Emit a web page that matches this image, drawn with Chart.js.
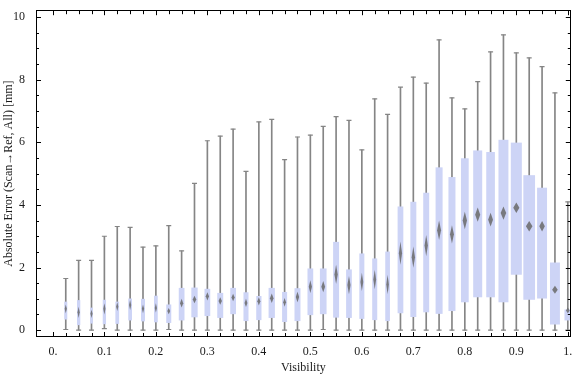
<!DOCTYPE html>
<html>
<head>
<meta charset="utf-8">
<script src="https://cdn.jsdelivr.net/npm/chart.js@4/dist/chart.umd.min.js"></script>
<style>
  html, body { margin: 0; padding: 0; background: #fff; }
  #wrap { width: 576px; height: 377px; }
</style>
</head>
<body>
<div id="wrap"><canvas id="box-chart"></canvas></div>
<script>
// values
const visibility = [0.025, 0.05, 0.075, 0.1, 0.125, 0.15, 0.175, 0.2, 0.225, 0.25,
                    0.275, 0.3, 0.325, 0.35, 0.375, 0.4, 0.425, 0.45, 0.475, 0.5,
                    0.525, 0.55, 0.575, 0.6, 0.625, 0.65, 0.675, 0.7, 0.725, 0.75,
                    0.775, 0.8, 0.825, 0.85, 0.875, 0.9, 0.925, 0.95, 0.975, 1.0];
const whiskerLow = [0.02, 0, 0, 0.05, 0, 0, 0, 0, 0.02, 0,
                    0, 0, 0, 0, 0, 0, 0, 0, 0, 0,
                    0.02, 0, 0, 0, 0, 0, 0, 0, 0, 0,
                    0, 0, 0, 0, 0, 0, 0, 0, 0, 0];
const whiskerHigh = [1.65, 2.23, 2.23, 3.0, 3.31, 3.28, 2.65, 2.69, 3.34, 2.53,
                     4.69, 6.05, 6.20, 6.42, 5.07, 6.65, 6.73, 5.45, 6.17, 6.23,
                     6.51, 6.82, 6.70, 5.76, 7.39, 6.89, 7.76, 8.08, 7.89, 9.27,
                     7.42, 7.07, 7.94, 8.89, 9.43, 8.86, 8.70, 8.42, 7.58, 4.10];
const q1 = [0.34, 0.16, 0.21, 0.19, 0.20, 0.31, 0.28, 0.25, 0.23, 0.31,
            0.41, 0.45, 0.39, 0.51, 0.29, 0.32, 0.39, 0.26, 0.29, 0.48,
            0.51, 0.40, 0.39, 0.36, 0.32, 0.29, 0.54, 0.42, 0.57, 0.52,
            0.61, 0.89, 1.05, 1.05, 0.89, 1.77, 0.97, 1.01, 0.18, 0.31];
const q3 = [0.91, 0.96, 0.72, 0.97, 0.91, 1.01, 1.00, 1.10, 0.82, 1.35,
            1.36, 1.32, 1.19, 1.35, 1.21, 1.09, 1.35, 1.22, 1.34, 1.97,
            1.97, 2.82, 1.94, 2.45, 2.29, 2.51, 3.95, 4.10, 4.39, 5.20,
            4.89, 5.49, 5.74, 5.69, 6.08, 5.99, 4.95, 4.55, 2.16, 0.66];
const median = [0.68, 0.57, 0.52, 0.68, 0.75, 0.80, 0.68, 0.71, 0.61, 0.86,
                0.98, 1.08, 0.93, 1.04, 0.87, 0.92, 1.02, 0.89, 1.06, 1.39,
                1.39, 1.78, 1.44, 1.54, 1.62, 1.46, 2.46, 2.33, 2.70, 3.19,
                3.06, 3.50, 3.69, 3.53, 3.74, 3.91, 3.32, 3.32, 1.29, 0.63];
// half height of the median diamond (confidence band)
const medianBand = [0.14, 0.18, 0.13, 0.18, 0.14, 0.16, 0.14, 0.15, 0.10, 0.14,
                    0.12, 0.13, 0.12, 0.12, 0.13, 0.13, 0.15, 0.14, 0.17, 0.20,
                    0.18, 0.31, 0.29, 0.29, 0.31, 0.31, 0.37, 0.34, 0.34, 0.31,
                    0.29, 0.28, 0.23, 0.22, 0.21, 0.17, 0.17, 0.17, 0.13, 0.09];
// relative box width (sample weight), widest box = 1
const sampleWeight = [0.26, 0.28, 0.23, 0.28, 0.32, 0.32, 0.34, 0.32, 0.43, 0.49,
                      0.54, 0.49, 0.51, 0.49, 0.43, 0.45, 0.54, 0.43, 0.51, 0.49,
                      0.57, 0.51, 0.49, 0.43, 0.43, 0.40, 0.49, 0.51, 0.51, 0.60,
                      0.60, 0.66, 0.77, 0.74, 0.85, 0.94, 1.00, 0.85, 0.85, 0.57];

const xTickValues = [0, 0.1, 0.2, 0.3, 0.4, 0.5, 0.6, 0.7, 0.8, 0.9, 1.0];
const xTickLabels = ['0.', '0.1', '0.2', '0.3', '0.4', '0.5', '0.6', '0.7', '0.8', '0.9', '1.'];
const yTickValues = [0, 2, 4, 6, 8, 10];

const BOX_COLOR = '#cdd4f6';
const WHISKER_COLOR = '#858585';
const MAX_BOX_W = 11.7;
const FONT = { family: "'Liberation Serif', 'DejaVu Serif', serif", size: 12 };

// boxes and median diamonds (variable width), then the frame with inward ticks
const boxPlugin = {
    id: 'boxes',
    afterDatasetsDraw(chart) {
        const { ctx, chartArea: a, scales: { x, y } } = chart;
        ctx.save();
        ctx.beginPath();
        ctx.rect(a.left, a.top, a.right - a.left, a.bottom - a.top);
        ctx.clip();
        visibility.forEach((v, i) => {
            const cx = x.getPixelForValue(v);
            const w = sampleWeight[i] * MAX_BOX_W;
            const top = y.getPixelForValue(q3[i]);
            const bot = y.getPixelForValue(q1[i]);
            ctx.fillStyle = BOX_COLOR;
            ctx.fillRect(cx - w / 2, top, w, bot - top);
        });
        ctx.filter = 'blur(0.7px)';
        ctx.fillStyle = 'rgba(105,105,105,0.85)';
        visibility.forEach((v, i) => {
            const cx = x.getPixelForValue(v);
            const w = sampleWeight[i] * MAX_BOX_W;
            const my = y.getPixelForValue(median[i]);
            const dh = y.getPixelForValue(median[i] - medianBand[i]) - my;
            const dw = Math.max(1.1, w * 0.28);
            ctx.beginPath();
            ctx.moveTo(cx, my - dh);
            ctx.lineTo(cx + dw, my);
            ctx.lineTo(cx, my + dh);
            ctx.lineTo(cx - dw, my);
            ctx.closePath();
            ctx.fill();
        });
        ctx.restore();
    },
    afterDraw(chart) {
        const { ctx, chartArea: a, scales: { x, y } } = chart;
        ctx.save();
        ctx.strokeStyle = '#000';
        ctx.lineWidth = 1;
        ctx.strokeRect(Math.round(a.left) + 0.5, Math.round(a.top) + 0.5,
                       Math.round(a.right - a.left) - 1, Math.round(a.bottom - a.top) - 1);
        ctx.beginPath();
        for (let k = 0; k <= 40; k++) {
            const v = k * 0.025;
            const px = Math.round(x.getPixelForValue(v)) + 0.5;
            const len = k % 4 === 0 ? 5 : 4;
            ctx.moveTo(px, a.bottom); ctx.lineTo(px, a.bottom - len);
            ctx.moveTo(px, a.top); ctx.lineTo(px, a.top + len);
        }
        for (let k = 0; k <= 20; k++) {
            const v = k * 0.5;
            const py = Math.round(y.getPixelForValue(v)) + 0.5;
            const len = k % 4 === 0 ? 5 : 3;
            ctx.moveTo(a.left, py); ctx.lineTo(a.left + len, py);
            ctx.moveTo(a.right, py); ctx.lineTo(a.right - len, py);
        }
        ctx.stroke();
        ctx.restore();
    }
};

const ctxEl = document.getElementById('box-chart');

const boxChart = new Chart(ctxEl, {
    type: 'bar',
    data: {
        datasets: [{
            label: 'whiskers',
            data: visibility.map((v, i) => ({ x: v, y: [whiskerLow[i], whiskerHigh[i]] })),
            backgroundColor: WHISKER_COLOR,
            barThickness: 1,
            grouped: false,
        }, {
            type: 'scatter',
            label: 'caps',
            data: visibility.map((v, i) => ({ x: v, y: whiskerHigh[i] }))
                .concat(visibility.map((v, i) => ({ x: v, y: whiskerLow[i] }))),
            pointStyle: 'line',
            pointRadius: 2.5,
            borderColor: WHISKER_COLOR,
            borderWidth: 1.2,
        }],
    },
    options: {
        responsive: true,
        maintainAspectRatio: false,
        animation: false,
        devicePixelRatio: 1,
        layout: { padding: { top: 4, right: 2, left: 0, bottom: 0 } },
        plugins: {
            legend: { display: false },
            tooltip: { enabled: false },
        },
        scales: {
            x: {
                type: 'linear',
                offset: false,
                min: -0.0328,
                max: 1.0058,
                grid: { display: false },
                border: { display: false },
                afterBuildTicks: s => { s.ticks = xTickValues.map(v => ({ value: v })); },
                afterFit: s => { s.height = 40; },
                ticks: {
                    autoSkip: false,
                    maxRotation: 0,
                    padding: 0,
                    color: '#1a1a1a',
                    font: FONT,
                    callback: (v, i) => xTickLabels[i],
                },
                title: {
                    display: true,
                    text: 'Visibility',
                    color: '#1a1a1a',
                    font: FONT,
                    padding: { top: 0, bottom: 2 },
                },
            },
            y: {
                min: -0.219,
                max: 10.22,
                grid: { display: false },
                border: { display: false },
                afterBuildTicks: s => { s.ticks = yTickValues.map(v => ({ value: v })); },
                afterFit: s => { s.width = 36; },
                ticks: {
                    padding: 3,
                    color: '#1a1a1a',
                    font: FONT,
                    callback: v => String(v),
                },
                title: {
                    display: true,
                    text: 'Absolute Error (Scan\u2192Ref, All) [mm]',
                    color: '#1a1a1a',
                    font: FONT,
                    padding: { top: 2, bottom: 0 },
                },
            },
        },
    },
    plugins: [boxPlugin],
});
</script>
</body>
</html>
